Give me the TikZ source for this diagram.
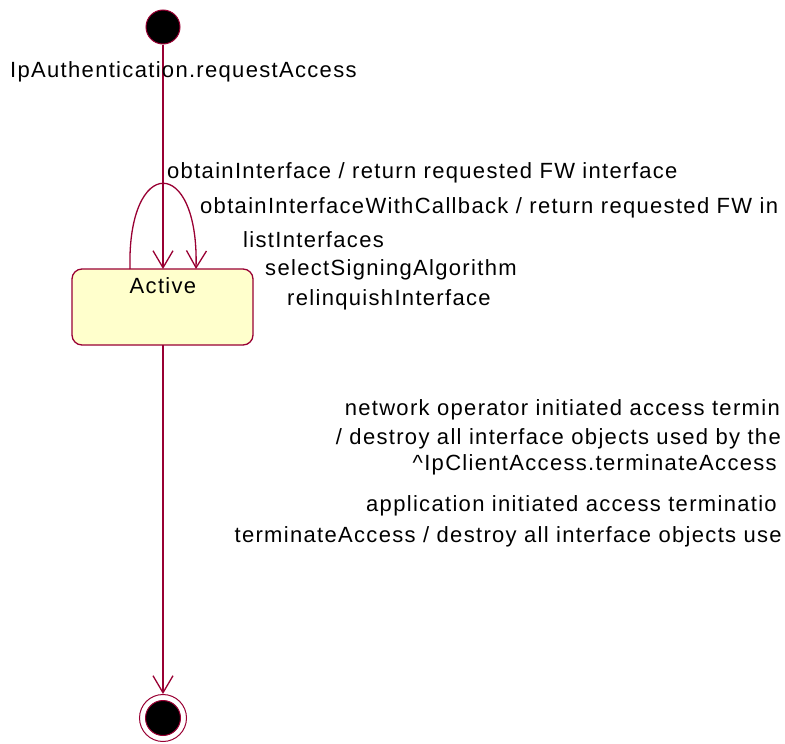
\documentclass[tikz,border=0pt]{standalone}
\usepackage{fontspec}
\setmainfont{Liberation Sans}[LetterSpace=6]
\usetikzlibrary{arrows.meta}
\definecolor{edge}{RGB}{153,0,51}
\definecolor{statefill}{RGB}{255,255,204}
\tikzset{
  lbl/.style={inner sep=0pt,font=\fontsize{22}{24}\selectfont},
  trans/.style={draw=edge,line width=1.3pt,-{Straight Barb[length=17pt,width=20pt,line width=1.3pt]}},
  statebox/.style={draw=edge,fill=statefill,rounded corners=10pt,line width=1.3pt},
}
\begin{document}
\begin{tikzpicture}[x=1pt,y=-1pt]
\useasboundingbox (0,0) rectangle (785,744);
% start
\node[circle,fill=black,draw=edge,line width=1pt,minimum size=34pt,inner sep=0pt] (start) at (163,27) {};
% active state
\draw[statebox] (72,269) rectangle (253,345);
\coordinate (actTop) at (163,269);
\coordinate (actBot) at (163,345);
\coordinate (loopL) at (130,269);
\coordinate (loopR) at (196,269);
\node[lbl,anchor=base] (active) at (163,293) {Active};
% final
\node[circle,draw=edge,line width=1pt,minimum size=47pt,inner sep=0pt] (final) at (163,718) {};
\node[circle,fill=black,draw=edge,line width=1pt,minimum size=35pt,inner sep=0pt] (finalin) at (163,718) {};
% transitions
\draw[trans] (start) -- (actTop);
\draw[trans] (loopL) .. controls (127,155) and (199,155) .. (loopR);
\draw[trans] (actBot) -- (final);
% labels
\node[lbl,anchor=base west] (l0) at (10,77) {IpAuthentication.requestAccess};
\node[lbl,anchor=base west] (l1) at (167,178) {obtainInterface / return requested FW interface};
\node[lbl,anchor=base west] (l2) at (200,213) {obtainInterfaceWithCallback / return requested FW in};
\node[lbl,anchor=base west] (l3) at (243,247) {listInterfaces};
\node[lbl,anchor=base west] (l4) at (265,275) {selectSigningAlgorithm};
\node[lbl,anchor=base west] (l5) at (287,305) {relinquishInterface};
\node[lbl,anchor=base east] (r1) at (780,415) {network operator initiated access termin};
\node[lbl,anchor=base east] (r2) at (781,444) {/ destroy all interface objects used by the};
\node[lbl,anchor=base east] (r3) at (777,470) {\^{}IpClientAccess.terminateAccess};
\node[lbl,anchor=base east] (r4) at (777,511) {application initiated access terminatio};
\node[lbl,anchor=base east] (r5) at (782,542) {terminateAccess / destroy all interface objects use};
\end{tikzpicture}
\end{document}
